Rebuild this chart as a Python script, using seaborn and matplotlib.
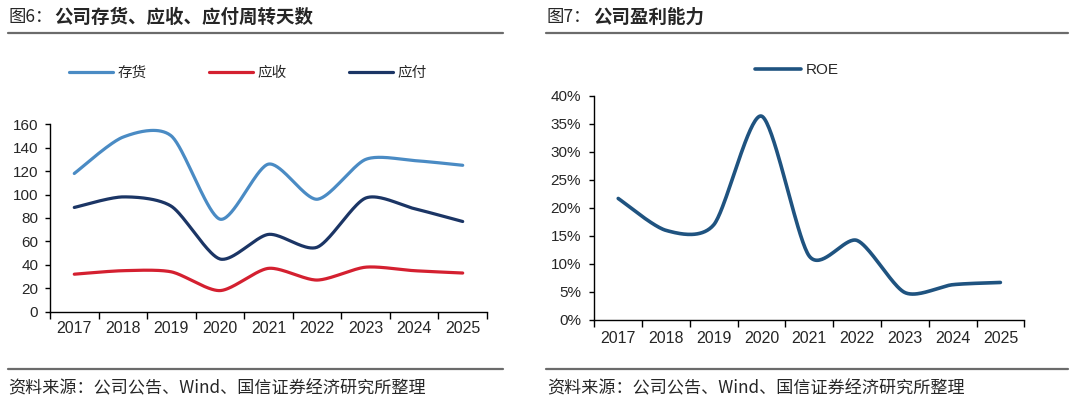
# 图6 / 图7：公司周转天数与盈利能力（双图）

import numpy as np
import seaborn as sns
import matplotlib.pyplot as plt
from matplotlib.lines import Line2D
from matplotlib.ticker import PercentFormatter

# ---------------- data ----------------
years = ['2017', '2018', '2019', '2020', '2021', '2022', '2023', '2024', '2025']
inventory_days = [118, 149, 150, 79, 126, 96, 130, 129, 125]   # 存货
receivable_days = [32, 35, 34, 18, 37, 27, 38, 35, 33]         # 应收
payable_days = [89, 98, 90, 45, 66, 55, 97, 88, 77]            # 应付
roe = [21.7, 16.0, 17.0, 36.4, 11.4, 14.2, 4.9, 6.3, 6.7]      # ROE, %

source_text = '资料来源：公司公告、Wind、国信证券经济研究所整理'

sns.set_theme(style='ticks')
plt.rcParams['font.family'] = ['Liberation Sans', 'Noto Sans CJK SC', 'DejaVu Sans']
cjk = ['Noto Sans CJK SC', 'DejaVu Sans']


def smooth(xv, yv, n=40, k=0.13):
    # smoothed line like Excel: cubic bezier through every point
    pts = np.column_stack([xv, yv]).astype(float)
    P = np.vstack([pts[0], pts, pts[-1]])
    t = np.linspace(0, 1, n)[:, None]
    out = []
    for i in range(1, len(P) - 2):
        p0, p1, p2, p3 = P[i - 1], P[i], P[i + 1], P[i + 2]
        c1 = p1 + (p2 - p0) * k
        c2 = p2 - (p3 - p1) * k
        seg = (1 - t) ** 3 * p1 + 3 * (1 - t) ** 2 * t * c1 + 3 * (1 - t) * t ** 2 * c2 + t ** 3 * p2
        out.append(seg if i == 1 else seg[1:])
    arr = np.vstack(out)
    return arr[:, 0], arr[:, 1]


def style_axis(ax, ypad, xpad):
    ax.set_xlim(-0.5, len(years) - 0.5)
    ax.set_xticks(np.arange(-0.5, len(years), 1))
    ax.set_xticklabels([])
    ax.set_xticks(range(len(years)), minor=True)
    ax.set_xticklabels(years, minor=True, fontsize=11.5)
    ax.tick_params(axis='x', which='major', length=5, width=1, color='black', direction='out')
    ax.tick_params(axis='x', which='minor', length=0, pad=xpad)
    ax.tick_params(axis='y', length=3.5, width=1, color='black', direction='out', pad=ypad)
    for s in ['top', 'right']:
        ax.spines[s].set_visible(False)
    for s in ['left', 'bottom']:
        ax.spines[s].set_color('black')
        ax.spines[s].set_linewidth(1)
    ax.set_xlabel('')
    ax.set_ylabel('')


fig = plt.figure(figsize=(10.8, 4.07), dpi=100)
fig.patch.set_facecolor('white')

# ---------------- left: turnover days ----------------
ax1 = fig.add_axes([0.0463, 0.2342, 0.4046, 0.4604])
x = np.arange(len(years))
series = [('存货', inventory_days, '#4A8BC4'),
          ('应收', receivable_days, '#D42030'),
          ('应付', payable_days, '#1B3565')]
for name, vals, col in series:
    sx, sy = smooth(x, vals)
    sns.lineplot(x=sx, y=sy, ax=ax1, color=col, lw=2.3, sort=False,
                 estimator=None, label=name)
ax1.set_ylim(0, 160)
ax1.set_yticks(range(0, 161, 20))
ax1.tick_params(axis='y', labelsize=11)
style_axis(ax1, ypad=5, xpad=7)
ax1.legend(loc='center left', bbox_to_anchor=(69 / 1080, 1 - 72.7 / 407),
           bbox_transform=fig.transFigure, ncol=3, frameon=False,
           prop={'family': cjk, 'size': 10.5}, handlelength=3.0,
           handletextpad=0.3, columnspacing=4.3, borderpad=0, borderaxespad=0)

# ---------------- right: ROE ----------------
ax2 = fig.add_axes([0.5503, 0.2138, 0.3981, 0.5504])
sx, sy = smooth(x, roe)
sns.lineplot(x=sx, y=sy, ax=ax2, color='#1F5380', lw=2.6, sort=False,
             estimator=None, label='ROE')
ax2.set_ylim(0, 40)
ax2.set_yticks(range(0, 41, 5))
ax2.yaxis.set_major_formatter(PercentFormatter(decimals=0))
ax2.tick_params(axis='y', labelsize=11)
style_axis(ax2, ypad=6, xpad=8)
ax2.legend(loc='center left', bbox_to_anchor=(755 / 1080, 1 - 70 / 407),
           bbox_transform=fig.transFigure, frameon=False,
           prop={'size': 11}, handlelength=3.0, handletextpad=0.3,
           borderpad=0, borderaxespad=0)

# ---------------- titles, rules, source ----------------
ty = 1 - 17 / 407
fig.text(8 / 1080, ty, '图6：', family=cjk, fontsize=12.5, va='center')
fig.text(54 / 1080, ty, '公司存货、应收、应付周转天数', family=cjk, fontsize=13.3,
         fontweight='bold', va='center')
fig.text(547 / 1080, ty, '图7：', family=cjk, fontsize=12.5, va='center')
fig.text(593 / 1080, ty, '公司盈利能力', family=cjk, fontsize=13.3,
         fontweight='bold', va='center')

rule_kw = dict(color='#6b6b6b', lw=1.6, transform=fig.transFigure)
for x0, x1 in [(8, 503), (546, 1068)]:
    fig.add_artist(Line2D([x0 / 1080, x1 / 1080], [1 - 33 / 407] * 2, **rule_kw))
    fig.add_artist(Line2D([x0 / 1080, x1 / 1080], [1 - 369 / 407] * 2, **rule_kw))

sy_txt = 1 - 388 / 407
fig.text(8 / 1080, sy_txt, source_text, family=cjk, fontsize=12.3, va='center')
fig.text(547 / 1080, sy_txt, source_text, family=cjk, fontsize=12.3, va='center')

fig.savefig('out.png', dpi=100, facecolor='white')
